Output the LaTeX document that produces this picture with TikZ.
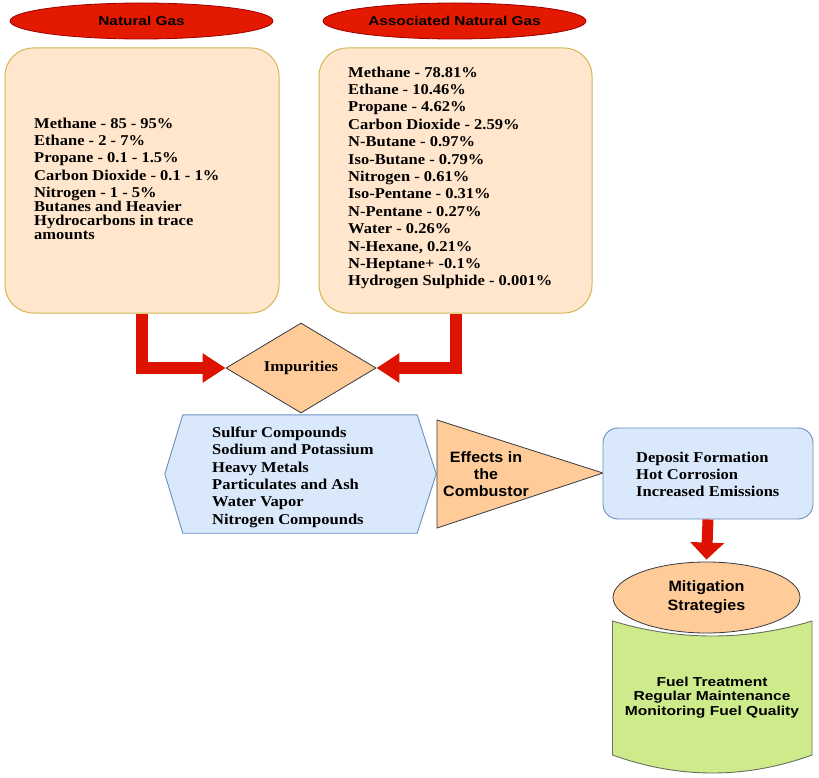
\documentclass[tikz,border=0pt]{standalone}
\usepackage{fontspec}
\usetikzlibrary{shapes.geometric,arrows.meta,calc}
\newfontfamily\serifb{Liberation Serif}[FakeStretch=1.1]
\newfontfamily\sansA{Liberation Sans}[FakeStretch=1.07]
\newfontfamily\sansB{Liberation Sans}[FakeStretch=1.2]
\definecolor{redfill}{HTML}{E31A00}
\definecolor{redline}{HTML}{9C0000}
\definecolor{arrred}{HTML}{DD1200}
\definecolor{boxfill}{HTML}{FFE6CC}
\definecolor{boxline}{HTML}{D6B656}
\definecolor{peach}{HTML}{FFCC99}
\definecolor{darkline}{HTML}{36393D}
\definecolor{bluefill}{HTML}{DAE8FC}
\definecolor{blueline}{HTML}{6C8EBF}
\definecolor{greenfill}{HTML}{CDEB8B}
\definecolor{greenline}{HTML}{66705C}
\tikzset{
  titleell/.style={ellipse, fill=redfill, draw=redline, line width=0.8pt, minimum width=263pt, minimum height=36pt, inner sep=0pt, font=\sansB\bfseries\fontsize{12.8}{14}\selectfont},
  gasbox/.style={rectangle, rounded corners=28pt, fill=boxfill, draw=boxline, line width=1pt, inner sep=0pt},
  listtxt/.style={anchor=north west, inner sep=0pt, align=left, font=\serifb\bfseries\fontsize{15}{17.4}\selectfont},
  peachshape/.style={fill=peach, draw=darkline, line width=0.8pt},
  blueshape/.style={fill=bluefill, draw=blueline, line width=0.9pt},
  bigarrow/.style={draw=arrred, line width=12pt, -{Triangle[length=23pt,width=28pt]}},
}
\begin{document}
\begin{tikzpicture}[x=1pt,y=-1pt]
\useasboundingbox (0,0) rectangle (819,778);
% titles
\node[titleell] (ngt) at (141.5,21) {Natural Gas};
\node[titleell] (agt) at (454.5,21) {Associated Natural Gas};
% boxes
\node[gasbox, minimum width=274pt, minimum height=265pt] (nb) at (142,180.5) {};
\node[gasbox, minimum width=273pt, minimum height=265pt] (ab) at (455.5,180.5) {};
\node[listtxt] (nbtxt) at (34,117.5) {Methane - 85 - 95\%\\ Ethane - 2 - 7\%\\ Propane - 0.1 - 1.5\%\\ Carbon Dioxide - 0.1 - 1\%\\ Nitrogen - 1 - 5\%\\[-4pt] Butanes and Heavier\\[-3pt] Hydrocarbons in trace\\[-3pt] amounts};
\node[listtxt] (abtxt) at (348,66.5) {Methane - 78.81\%\\ Ethane - 10.46\%\\ Propane - 4.62\%\\ Carbon Dioxide - 2.59\%\\ N-Butane - 0.97\%\\ Iso-Butane - 0.79\%\\ Nitrogen - 0.61\%\\ Iso-Pentane - 0.31\%\\ N-Pentane - 0.27\%\\ Water - 0.26\%\\ N-Hexane, 0.21\%\\ N-Heptane+ -0.1\%\\ Hydrogen Sulphide - 0.001\%};
% impurities diamond
\node[diamond, peachshape, minimum width=150pt, minimum height=90pt, inner sep=0pt, font=\serifb\bfseries\fontsize{15}{17}\selectfont] (imp) at (301,368) {Impurities};
\draw[bigarrow] (nb.south) |- (imp.west);
\draw[bigarrow] (ab.south) |- (imp.east);
% hexagon
\node[rectangle, minimum width=234pt, minimum height=118pt, inner sep=0pt] (hex) at (300,474) {};
\draw[blueshape] (hex.north west) -- (hex.north east) -- ($(hex.east)+(19,0)$) -- (hex.south east) -- (hex.south west) -- ($(hex.west)+(-18,0)$) -- cycle;
\node[listtxt] (hextxt) at (212,426.5) {Sulfur Compounds\\ Sodium and Potassium\\ Heavy Metals\\ Particulates and Ash\\ Water Vapor\\ Nitrogen Compounds};
% triangle
\coordinate (tA) at (437,420);
\coordinate (tB) at (437,528);
\coordinate (tC) at (603,473);
\draw[peachshape] (tA) -- (tC) -- (tB) -- cycle;
\node[align=center, inner sep=0pt, font=\sansA\bfseries\fontsize{15}{17}\selectfont] (eff) at (486,474) {Effects in\\ the\\ Combustor};
% deposit box
\node[rectangle, rounded corners=15pt, blueshape, minimum width=210pt, minimum height=91pt, inner sep=0pt] (dep) at (708,473.5) {};
\node[listtxt, font=\serifb\bfseries\fontsize{15}{17}\selectfont] (deptxt) at (636,451.5) {Deposit Formation\\ Hot Corrosion\\ Increased Emissions};
% tape
\coordinate (gTL) at (612.5,621);
\coordinate (gTR) at (812,621);
\coordinate (gBR) at (812,755);
\coordinate (gBL) at (612.5,755);
\draw[fill=greenfill, draw=greenline, line width=0.9pt] (gTL) .. controls (679,641) and (746,641) .. (gTR) -- (gBR) .. controls (746,779) and (679,779) .. (gBL) -- cycle;
\node[align=center, inner sep=0pt, font=\sansB\bfseries\fontsize{13}{14.5}\selectfont] (gtxt) at (712,697.5) {Fuel Treatment\\ Regular Maintenance\\ Monitoring Fuel Quality};
% mitigation
\node[ellipse, peachshape, minimum width=187pt, minimum height=71pt, inner sep=0pt, align=center, font=\sansA\bfseries\fontsize{15}{19}\selectfont] (mit) at (706.5,597.5) {Mitigation\\ Strategies};
\draw[draw=arrred, line width=11pt, -{Triangle[length=17pt,width=33pt]}] (dep.south) -- ($(mit.north)+(0,-2)$);
\end{tikzpicture}
\end{document}
